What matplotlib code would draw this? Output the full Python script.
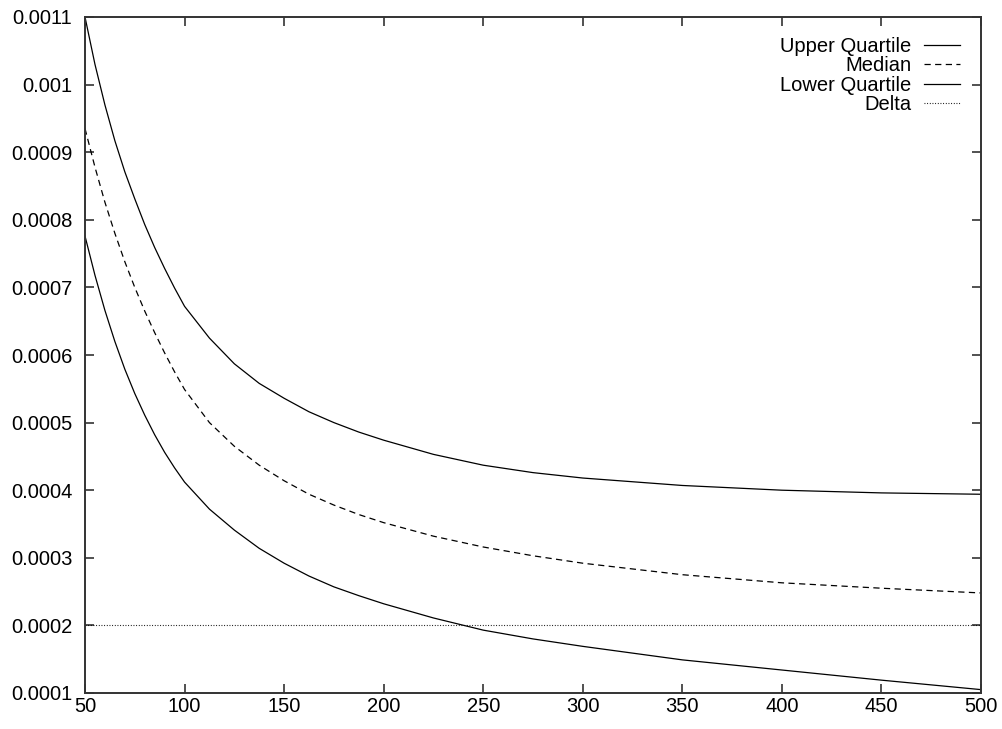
import numpy as np
import matplotlib.pyplot as plt

plt.rcParams['font.family'] = ['Liberation Sans', 'DejaVu Sans']

# values
x = [50, 55, 60, 65, 70, 75, 80, 85, 90, 95, 100, 112.5, 125, 137.5, 150, 162.5, 175, 187.5,
     200, 225, 250, 275, 300, 350, 400, 450, 500]
upper = [1.100, 1.030, 0.970, 0.917, 0.871, 0.831, 0.793, 0.759, 0.728, 0.699, 0.672, 0.625, 0.587,
         0.558, 0.536, 0.516, 0.500, 0.486, 0.474, 0.453, 0.437, 0.426, 0.418, 0.407, 0.400, 0.396, 0.394]
median = [0.935, 0.878, 0.826, 0.780, 0.738, 0.700, 0.665, 0.633, 0.603, 0.575, 0.549, 0.500, 0.465,
          0.437, 0.414, 0.394, 0.378, 0.364, 0.352, 0.332, 0.316, 0.303, 0.292, 0.275, 0.263, 0.255, 0.248]
lower = [0.776, 0.718, 0.666, 0.620, 0.579, 0.543, 0.511, 0.482, 0.456, 0.433, 0.412, 0.372, 0.341,
         0.314, 0.292, 0.273, 0.257, 0.244, 0.232, 0.211, 0.193, 0.180, 0.169, 0.149, 0.134, 0.119, 0.105]
delta_x = [50, 500]
delta_y = [0.0002, 0.0002]

# readings above are in units of 1e-3
upper = np.array(upper) * 1e-3
median = np.array(median) * 1e-3
lower = np.array(lower) * 1e-3

xticks = [50, 100, 150, 200, 250, 300, 350, 400, 450, 500]
yticks = [0.0001, 0.0002, 0.0003, 0.0004, 0.0005, 0.0006, 0.0007, 0.0008, 0.0009, 0.001, 0.0011]
ytick_labels = ['0.0001', '0.0002', '0.0003', '0.0004', '0.0005', '0.0006', '0.0007',
                '0.0008', '0.0009', '0.001', '0.0011']

fig = plt.figure(figsize=(10.03, 7.29), dpi=100)
ax = fig.add_axes([85 / 1003, 1 - 693 / 729, 896 / 1003, 676 / 729])

ax.plot(x, upper, color='black', lw=0.9, label='Upper Quartile')
ax.plot(x, median, color='black', lw=0.9, dashes=(5, 3.5), label='Median')
ax.plot(x, lower, color='black', lw=0.9, label='Lower Quartile')
ax.plot(delta_x, delta_y, color='black', lw=0.8, dashes=(0.8, 1.6), label='Delta')

ax.set_xlim(50, 500)
ax.set_ylim(0.0001, 0.0011)
ax.set_xticks(xticks)
ax.set_yticks(yticks)
ax.set_yticklabels(ytick_labels)

for s in ax.spines.values():
    s.set_linewidth(1.4)
    s.set_color('#333333')
ax.tick_params(direction='in', top=True, right=True, length=6.5, width=1.1,
               labelsize=14.5, color='#222222')
ax.tick_params(axis='y', pad=9)
ax.tick_params(axis='x', pad=3)

leg = ax.legend(loc='upper right', bbox_to_anchor=(0.977, 0.971), frameon=False,
                markerfirst=False, fontsize=14.5, borderpad=0, borderaxespad=0,
                handlelength=1.8, handletextpad=0.65, labelspacing=0.03)

fig.savefig('out.png', dpi=100)
